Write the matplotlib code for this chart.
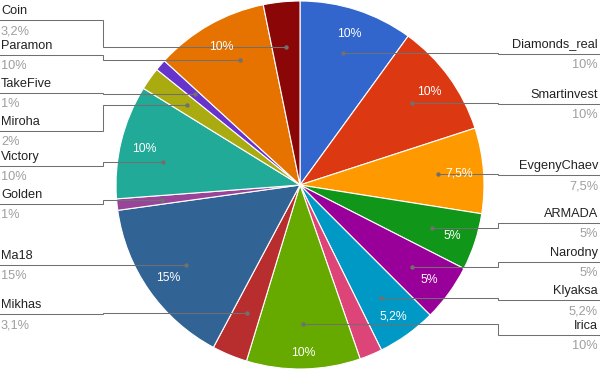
import numpy as np
import matplotlib
matplotlib.use('Agg')
import matplotlib.pyplot as plt

plt.rcParams['font.family'] = ['Liberation Sans', 'DejaVu Sans']

# Data (clockwise from 12 o'clock)
names = ['Diamonds_real', 'Smartinvest', 'EvgenyChaev', 'ARMADA', 'Narodny', 'Klyaksa',
         '', 'Irica', 'Mikhas', 'Ma18', 'Golden', 'Victory', 'Miroha', 'TakeFive',
         'Paramon', 'Coin']
values = [10, 10, 7.5, 5, 5, 5.2, 2, 10, 3.1, 15, 1, 10, 2, 1, 10, 3.2]
colors = ['#3366cc', '#dc3912', '#ff9900', '#109618', '#990099', '#0099c6',
          '#dd4477', '#66aa00', '#b82e2e', '#316395', '#994499', '#22aa99',
          '#aaaa11', '#6633cc', '#e67300', '#8b0707']

# callout layout: row of each label (px from top), and small angle nudges for the dots
label_rows = [54, 104, 175, 223, 262, 300, None, 335, 314, 265, 204, 166, 131, 93, 55, 20]
dot_nudge = {'Victory': 4.2, 'Paramon': -4.0}
text_radius = {'Irica': 0.905}

W, H = 600, 371
cx, cy, R = 300, H - 185, 184

def fmt(v):
    return ('%g' % v).replace('.', ',') + '%'

def put(x, y_center, s, size, **kw):
    # place text so the cap height is centred on y_center
    cap = 0.716 * size * 100 / 72
    ax.text(x, y_center - cap / 2, s, fontsize=size, va='baseline', **kw)

fig = plt.figure(figsize=(6, 3.71), dpi=100)
ax = fig.add_axes([0, 0, 1, 1])

wedges, _ = ax.pie(values, colors=colors, startangle=90, counterclock=False,
                   radius=R, center=(cx, cy), frame=True,
                   wedgeprops=dict(edgecolor='white', linewidth=0.8))

ax.set_xlim(0, W)
ax.set_ylim(0, H)
ax.set_aspect('equal')
ax.axis('off')

line_col = '#707070'
for w, name, v, row in zip(wedges, names, values, label_rows):
    mid = (w.theta1 + w.theta2) / 2
    # value inside slice
    if v >= 5:
        tr = text_radius.get(name, 0.87) * R
        a = np.deg2rad(mid)
        put(cx + tr * np.cos(a), cy + tr * np.sin(a), fmt(v), 8.8,
            color='white', ha='center')
    if row is None:
        continue
    a = np.deg2rad(mid + dot_nudge.get(name, 0))
    dx = cx + 0.755 * R * np.cos(a)
    dy = cy + 0.755 * R * np.sin(a)
    uy = H - row
    if dx >= cx:
        bx, ex, tx, ha = 498, W, 598, 'right'
    else:
        bx, ex, tx, ha = 103, 0, 1, 'left'
    ax.plot([dx, bx, bx, ex], [dy, dy, uy, uy], color=line_col, lw=0.75,
            solid_joinstyle='miter')
    ax.plot(dx, dy, 'o', color=line_col, ms=3.2, mec='none')
    put(tx, uy + 11, name, 9.2, color='#222222', ha=ha)
    put(tx, uy - 9.5, fmt(v), 9.2, color='#9e9e9e', ha=ha)

fig.savefig('out.png', dpi=100, facecolor='white')
